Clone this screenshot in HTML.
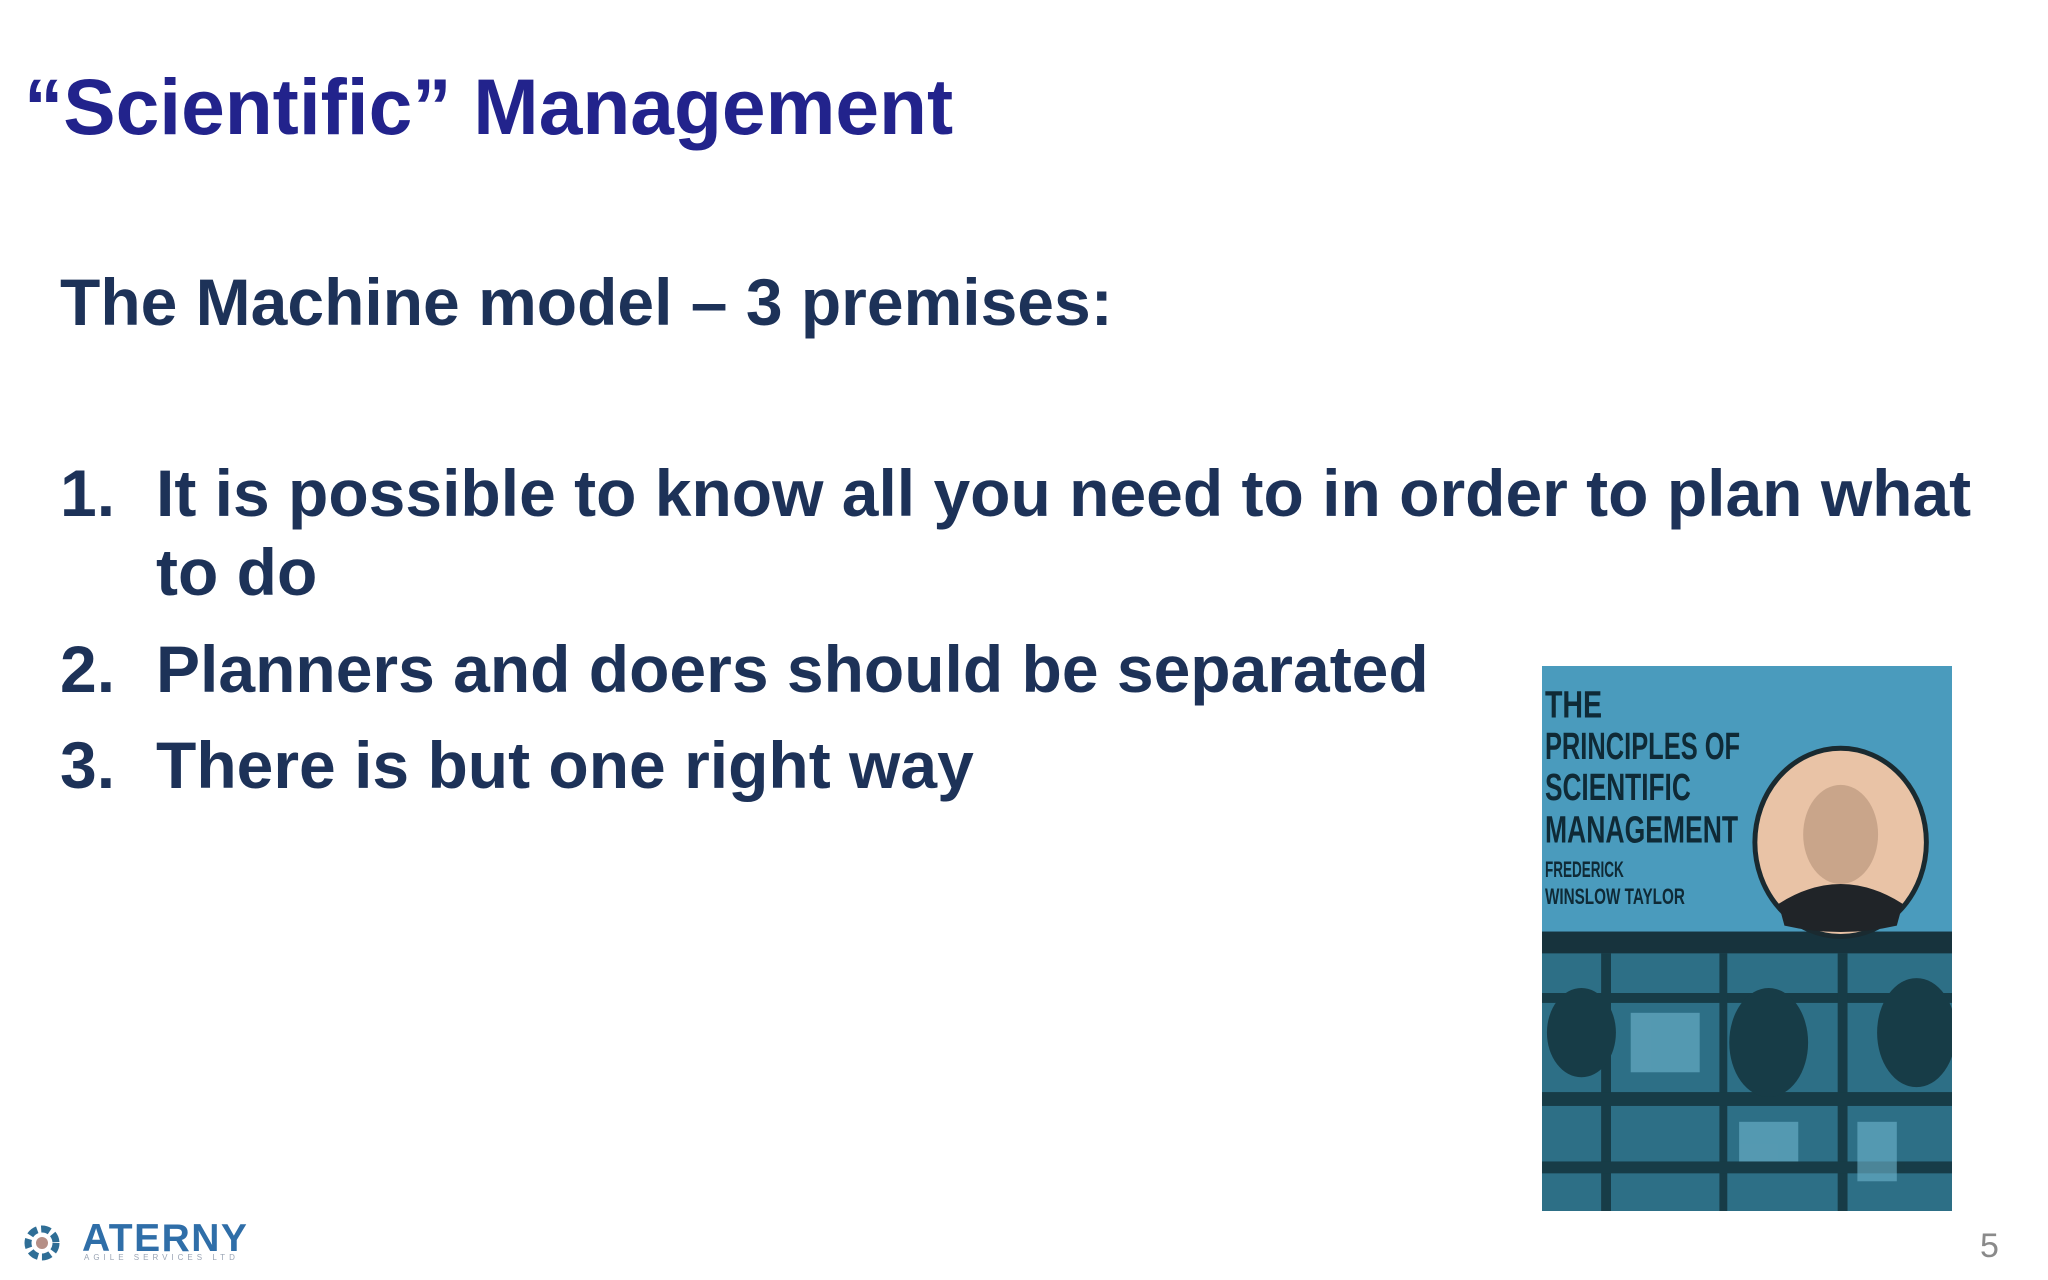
<!DOCTYPE html>
<html><head><meta charset="utf-8"><style>
html,body{margin:0;padding:0;background:#fff;}
#slide{position:relative;width:2048px;height:1280px;overflow:hidden;background:#fff;font-family:"Liberation Sans",Arial,sans-serif;}
.t{position:absolute;white-space:nowrap;font-weight:bold;}
</style></head><body>
<div id="slide">
<div class="t" style="left:24px;top:62px;font-size:78.5px;line-height:90px;color:#22238c;">“Scientific” Management</div>
<div class="t" style="left:60px;top:262px;font-size:66px;line-height:80px;color:#1d3258;">The Machine model – 3 premises:</div>
<div style="position:absolute;left:0;top:-3px;color:#1d3258;font-weight:bold;font-size:66px;">
 <div class="t" style="left:60px;top:456px;line-height:80px;">1.</div>
 <div class="t" style="left:156px;top:456px;line-height:80px;">It is possible to know all you need to in order to plan what</div>
 <div class="t" style="left:156px;top:535px;line-height:80px;">to do</div>
 <div class="t" style="left:60px;top:632px;line-height:80px;">2.</div>
 <div class="t" style="left:156px;top:632px;line-height:80px;">Planners and doers should be separated</div>
 <div class="t" style="left:60px;top:728px;line-height:80px;">3.</div>
 <div class="t" style="left:156px;top:728px;line-height:80px;">There is but one right way</div>
</div>
<svg style="position:absolute;left:1542px;top:666px" width="410" height="545" viewBox="0 0 416 550" preserveAspectRatio="none">
 <rect x="0" y="0" width="416" height="550" fill="#4a9bbd"/>
 <rect x="0" y="268" width="416" height="282" fill="#2d6f86"/>
 <rect x="0" y="268" width="416" height="22" fill="#17333d"/>
 <g fill="#123038" opacity="0.8">
  <rect x="0" y="330" width="416" height="10"/>
  <rect x="60" y="290" width="10" height="260"/>
  <rect x="180" y="290" width="8" height="260"/>
  <rect x="300" y="290" width="10" height="260"/>
  <rect x="0" y="430" width="416" height="14"/>
  <rect x="0" y="500" width="416" height="12"/>
  <ellipse cx="40" cy="370" rx="35" ry="45"/>
  <ellipse cx="230" cy="380" rx="40" ry="55"/>
  <ellipse cx="380" cy="370" rx="40" ry="55"/>
 </g>
 <g fill="#6fb6cf" opacity="0.6">
  <rect x="90" y="350" width="70" height="60"/>
  <rect x="320" y="460" width="40" height="60"/>
  <rect x="200" y="460" width="60" height="40"/>
 </g>
 <ellipse cx="303" cy="178" rx="87" ry="95" fill="#e9c3a6" stroke="#1a2a30" stroke-width="5"/>
 <ellipse cx="303" cy="170" rx="38" ry="50" fill="#c9a58a"/>
 <path d="M240 240 Q303 200 366 240 L360 262 Q303 275 246 262Z" fill="#202428"/>
 <g fill="#0f2a36" font-family="Liberation Sans,Arial,sans-serif" font-weight="bold">
  <text x="3" y="52" font-size="38" textLength="58" lengthAdjust="spacingAndGlyphs">THE</text>
  <text x="3" y="94" font-size="38" textLength="198" lengthAdjust="spacingAndGlyphs">PRINCIPLES OF</text>
  <text x="3" y="135" font-size="38" textLength="148" lengthAdjust="spacingAndGlyphs">SCIENTIFIC</text>
  <text x="3" y="178" font-size="38" textLength="196" lengthAdjust="spacingAndGlyphs">MANAGEMENT</text>
  <text x="3" y="213" font-size="22" textLength="80" lengthAdjust="spacingAndGlyphs">FREDERICK</text>
  <text x="3" y="240" font-size="22" textLength="142" lengthAdjust="spacingAndGlyphs">WINSLOW TAYLOR</text>
 </g>
</svg>
<svg style="position:absolute;left:18px;top:1222px" width="48" height="42" viewBox="0 0 48 42">
 <circle cx="24" cy="21" r="14" fill="none" stroke="#2f6e96" stroke-width="7" stroke-dasharray="9 4"/>
 <circle cx="24" cy="21" r="6" fill="#b58f86"/>
</svg>
<div class="t" style="left:82px;top:1219px;font-size:39px;line-height:40px;color:#2f6ea8;letter-spacing:1.5px;">ATERNY</div>
<div class="t" style="left:84px;top:1254px;font-size:8px;line-height:8px;color:#9aa4b4;letter-spacing:4px;font-weight:normal;">AGILE SERVICES LTD</div>
<div class="t" style="left:1980px;top:1226px;font-size:34px;line-height:40px;color:#8a8a8a;font-weight:normal;">5</div>
</div>
</body></html>
